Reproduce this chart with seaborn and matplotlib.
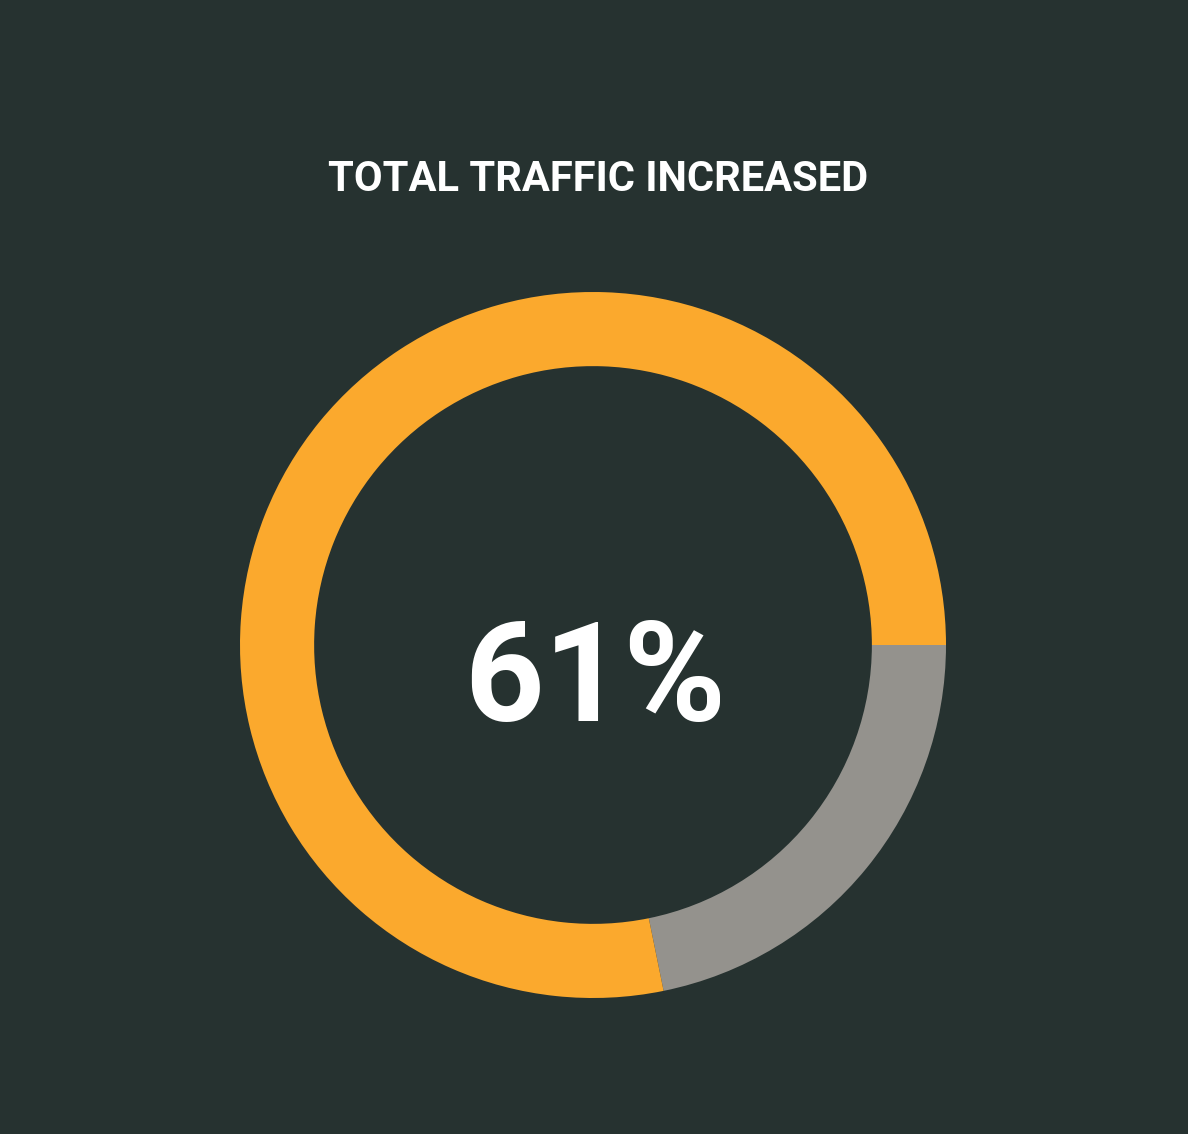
import matplotlib
matplotlib.use("Agg")
import matplotlib.pyplot as plt
import seaborn as sns

# Data
segment_labels = ["Remaining", "Increased"]
segment_values = [17, 61]
segment_colors = ["#94928d", "#fba92d"]
title_text = "TOTAL TRAFFIC INCREASED"
center_text = "61%"

BG = "#263230"

sns.set_theme(style="dark")
plt.rcParams["font.family"] = ["Roboto", "DejaVu Sans"]

W, H = 1188, 1134
fig = plt.figure(figsize=(W / 100, H / 100), dpi=100, facecolor=BG)

cx, cy, R = 593, H - 645, 353
ax = fig.add_axes([(cx - R) / W, (cy - R) / H, 2 * R / W, 2 * R / H])
ax.set_facecolor(BG)
ax.pie(segment_values, colors=segment_colors, startangle=0, counterclock=False,
       radius=1.0, wedgeprops=dict(width=0.21, edgecolor="none", linewidth=0))
ax.set_xlim(-1, 1)
ax.set_ylim(-1, 1)
ax.set_aspect("equal")
ax.axis("off")

fig.text(598 / W, 1 - 191 / H, title_text, ha="center", va="baseline",
         color="white", fontsize=30, fontweight="bold")
fig.text(595 / W, 1 - 721 / H, center_text, ha="center", va="baseline",
         color="white", fontsize=100, fontweight="bold")

fig.savefig("out.png", dpi=100, facecolor=BG)
